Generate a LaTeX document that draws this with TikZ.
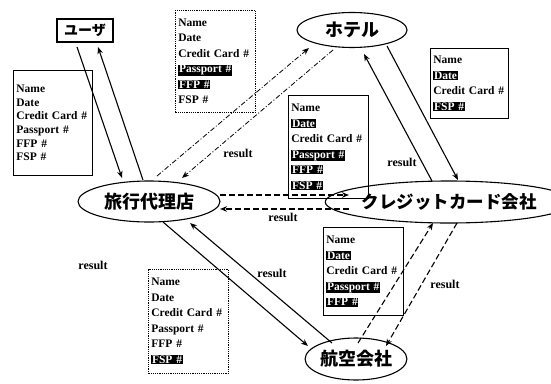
\documentclass[tikz,border=0pt]{standalone}
\usepackage{fontspec}
\setmainfont{Liberation Serif}
\newfontfamily\jpfont{Noto Sans CJK JP}
\usetikzlibrary{shapes.geometric,calc,arrows.meta}
\newcommand{\invtxt}[1]{{\setlength{\fboxsep}{0.7pt}\colorbox{black}{\textcolor{white}{#1}}}}
\tikzset{
  ell/.style={ellipse, draw, line width=1.1pt, inner sep=0pt, font=\jpfont\bfseries\fontsize{18}{18}\selectfont},
  info/.style={draw, line width=0.8pt, inner sep=3pt, align=left, anchor=north west,
               font=\bfseries\fontsize{11.5}{15.5}\selectfont},
  dotbox/.style={info, dash pattern=on 1.2pt off 1pt, line width=0.7pt},
  arr/.style={-{Stealth[length=7pt,width=5.5pt]}, line width=1.1pt},
  dashline/.style={arr, dash pattern=on 6pt off 3pt},
  dashdotline/.style={arr, line width=0.8pt, dash pattern=on 5pt off 2pt on 1pt off 2pt},
  reslabel/.style={font=\bfseries\fontsize{12}{12}\selectfont, inner sep=0pt}
}
\begin{document}
\begin{tikzpicture}[x=1pt,y=-1pt]
\useasboundingbox (0,0) rectangle (551,383);
\fill[white] (0,0) rectangle (551,383);

% main entities
\node[draw, line width=1.1pt, minimum width=56pt, minimum height=23pt, inner sep=0pt,
      font=\jpfont\bfseries\fontsize{14}{14}\selectfont] (user) at (85,30.5) {ユーザ};
\node[ell, minimum width=142pt, minimum height=41pt] (agency) at (149,201.5) {旅行代理店};
\node[ell, minimum width=110pt, minimum height=35pt] (hotel) at (352,30) {ホテル};
\node[ell, minimum width=198pt, minimum height=42pt, font=\jpfont\bfseries\fontsize{17.5}{17.5}\selectfont] (credit) at (449,202) {クレジットカード会社};
\node[ell, minimum width=94pt, minimum height=42pt] (airline) at (356,359) {航空会社};

% info boxes
\node[info, text width=73pt, minimum height=105pt, font=\bfseries\fontsize{11.5}{13.7}\selectfont]
  (boxuser) at (13,70) {Name\\Date\\Credit Card \#\\Passport \#\\FFP \#\\FSP \#};
\node[dotbox, text width=74pt, minimum height=102pt] (boxhotel) at (175,10)
  {Name\\Date\\Credit Card \#\\\invtxt{Passport \#}\\\invtxt{FFP \#}\\FSP \#};
\node[info, text width=72pt, minimum height=70pt] (boxhc) at (430,48)
  {Name\\\invtxt{Date}\\Credit Card \#\\\invtxt{FSP \#}};
\node[info, text width=74pt, minimum height=103pt] (boxcredit) at (288,95)
  {Name\\\invtxt{Date}\\Credit Card \#\\\invtxt{Passport \#}\\\invtxt{FFP \#}\\\invtxt{FSP \#}};
\node[info, text width=74pt, minimum height=88pt] (boxca) at (323,227)
  {Name\\\invtxt{Date}\\Credit Card \#\\\invtxt{Passport \#}\\\invtxt{FFP \#}};
\node[dotbox, text width=74pt, minimum height=104pt] (boxair) at (148,269)
  {Name\\Date\\Credit Card \#\\Passport \#\\FFP \#\\\invtxt{FSP \#}};

% connectors
\draw[arr] ($(user)+(-8,16.5)$) -- ($(agency)+(-27,-23.5)$);
\draw[arr] ($(agency)+(-6,-21.5)$) -- ($(user)+(13,16.5)$);

\draw[dashdotline] ($(agency)+(8,-25.5)$) -- ($(hotel)+(-43,18)$);
\draw[dashdotline] ($(hotel)+(-19,20)$) -- ($(agency)+(33,-23.5)$);

\draw[arr] ($(credit)+(-17,-21)$) -- ($(hotel)+(12,24)$);
\draw[arr] ($(hotel)+(35,16)$) -- ($(credit)+(9,-22)$);

\draw[dashline] ($(agency)+(71,-6.5)$) -- ($(credit)+(-100,-7)$);
\draw[dashline] ($(credit)+(-100,7)$) -- ($(agency)+(71,7.5)$);

\draw[arr] ($(agency)+(14,20.5)$) -- ($(airline)+(-48,-13)$);
\draw[arr] ($(airline)+(-24,-16)$) -- ($(agency)+(41,21.5)$);

\draw[dashline] ($(airline)+(2,-16)$) -- ($(credit)+(-16,21)$);
\draw[dashline] ($(credit)+(8,21)$) -- ($(airline)+(30,-13)$);

% result labels
\node[reslabel] (r1) at (93,265) {result};
\node[reslabel] (r2) at (238,153) {result};
\node[reslabel] (r3) at (283,217) {result};
\node[reslabel] (r4) at (402,162) {result};
\node[reslabel] (r5) at (272,273) {result};
\node[reslabel] (r6) at (445,284) {result};
\end{tikzpicture}
\end{document}
